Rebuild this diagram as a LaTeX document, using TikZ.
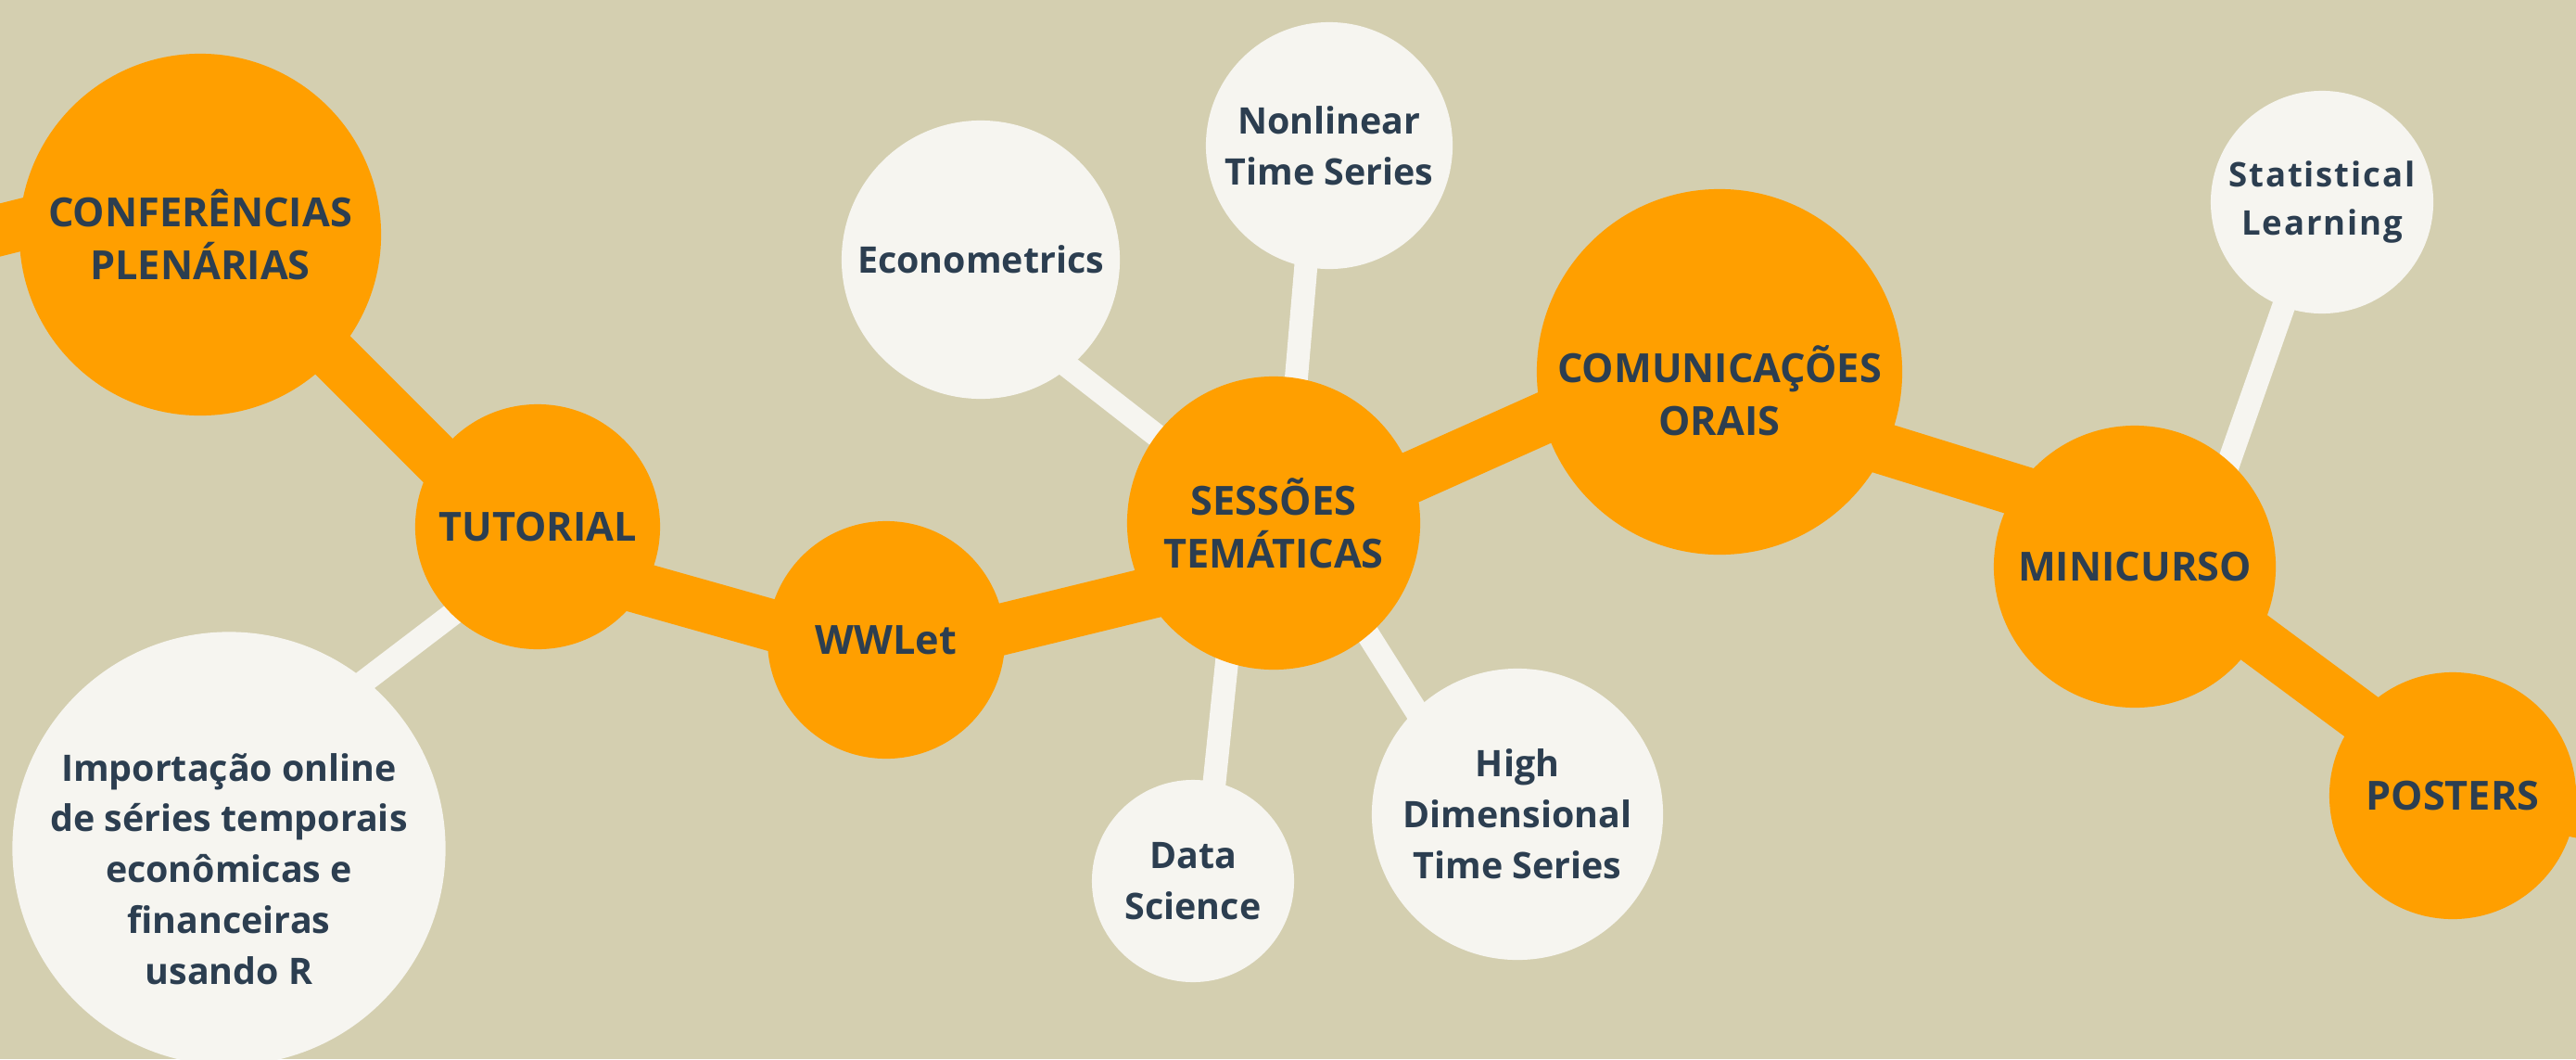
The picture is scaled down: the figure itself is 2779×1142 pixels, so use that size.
\documentclass[tikz,border=0pt]{standalone}
\usepackage{fontspec}
\setmainfont{Open Sans}
\usetikzlibrary{positioning}

\definecolor{paper}{HTML}{D4CFB0}
\definecolor{amber}{HTML}{FF9F00}
\definecolor{chalk}{HTML}{F6F5F0}
\definecolor{ink}{HTML}{2C3E50}

\pgfdeclarelayer{paperlayer}
\pgfdeclarelayer{links}
\pgfsetlayers{paperlayer,links,main}

\tikzset{
    topic/.style={circle, fill=amber, inner sep=0pt, outer sep=0pt,
        text=ink, align=center, font=\bfseries\fontsize{12.3}{16.2}\selectfont},
    sub/.style={circle, fill=chalk, inner sep=0pt, outer sep=0pt,
        text=ink, align=center, font=\bfseries\fontsize{11.2}{15.6}\selectfont},
    caption/.style={text=ink, align=center, inner sep=0pt},
    trunk/.style={draw=amber, line width=15.8pt},
    twig/.style={draw=chalk, line width=7.1pt}
}

\begin{document}
\begin{tikzpicture}[x=0.01cm, y=-0.01cm]
    \useasboundingbox (0,0) rectangle (2779,1142);
    \begin{pgfonlayer}{paperlayer}
        \fill[paper] (0,0) rectangle (2779,1142);
    \end{pgfonlayer}

    % main track
    \node[topic, minimum size=3.9cm]  (conf)    at (216,253)  {CONFERÊNCIAS\\PLENÁRIAS};
    \node[topic, minimum size=2.64cm] (tutor)   at (580,568)  {TUTORIAL};
    \node[topic, minimum size=2.56cm] (wwlet)   at (956,690)  {WWLet};
    \node[topic, minimum size=3.16cm] (sessoes) at (1374,564) {SESSÕES\\TEMÁTICAS};
    \node[topic, minimum size=3.94cm] (comun)   at (1855,401) {};
    \node[caption, font=\bfseries\fontsize{12.3}{16.2}\selectfont]
        (comuntxt) at ([shift={(0,20)}]comun.center) {COMUNICAÇÕES\\ORAIS};
    \node[topic, minimum size=3.04cm] (mini)    at (2303,611) {MINICURSO};
    \node[topic, minimum size=2.66cm] (posters) at (2646,858) {POSTERS};
    \coordinate (confout)    at (-100,273);
    \coordinate (postersout) at (2900,898);

    % side topics
    \node[sub, minimum size=4.67cm] (rimport) at (247,915) {};
    \node[caption, font=\bfseries\fontsize{11.2}{15.6}\selectfont]
        (rimporttxt) at ([shift={(0,22)}]rimport.center)
        {Importação online\\de séries temporais\\econômicas e\\financeiras\\usando R};
    \node[sub, minimum size=3.0cm]  (econ)    at (1058,280) {Econometrics};
    \node[sub, minimum size=2.66cm] (nonlin)  at (1434,157) {Nonlinear\\Time Series};
    \node[sub, minimum size=2.18cm] (datasci) at (1287,950) {Data\\Science};
    \node[sub, minimum size=3.14cm] (highdim) at (1637,878) {High\\Dimensional\\Time Series};
    \node[sub, minimum size=2.4cm,
          font=\bfseries\fontsize{10.4}{15}\selectfont\addfontfeature{LetterSpace=5}]
        (statl) at (2505,218) {Statistical\\Learning};

    \begin{pgfonlayer}{links}
        \draw[trunk] (confout) -- ([shift={(0,-59)}]conf.center);
        \draw[trunk] ([shift={(0,-13)}]conf.center) -- ([shift={(0,36)}]tutor.center);
        \draw[trunk] ([shift={(0,35)}]tutor.center) -- ([shift={(0,19)}]wwlet.center);
        \draw[trunk] ([shift={(0,19)}]wwlet.center) -- ([shift={(0,43)}]sessoes.center);
        \draw[trunk] ([shift={(0,17)}]sessoes.center) -- ([shift={(0,-35)}]comun.center);
        \draw[trunk] ([shift={(0,28)}]comun.center) -- ([shift={(0,-43)}]mini.center);
        \draw[trunk] ([shift={(0,-19)}]mini.center) -- ([shift={(0,-12)}]posters.center);
        \draw[trunk] ([shift={(0,-8)}]posters.center) -- (postersout);
        \draw[twig] ([shift={(32,0)}]tutor.center) -- ([shift={(-91,0)}]rimport.center);
        \draw[twig] ([shift={(-5,0)}]sessoes.center) -- ([shift={(0,42)}]econ.center);
        \draw[twig] ([shift={(11,0)}]sessoes.center) -- ([shift={(-14,0)}]nonlin.center);
        \draw[twig] ([shift={(-35,0)}]sessoes.center) -- ([shift={(12,0)}]datasci.center);
        \draw[twig] ([shift={(26,0)}]sessoes.center) -- ([shift={(-39,0)}]highdim.center);
        \draw[twig] ([shift={(62,0)}]mini.center) -- ([shift={(-2,0)}]statl.center);
    \end{pgfonlayer}
\end{tikzpicture}
\end{document}
